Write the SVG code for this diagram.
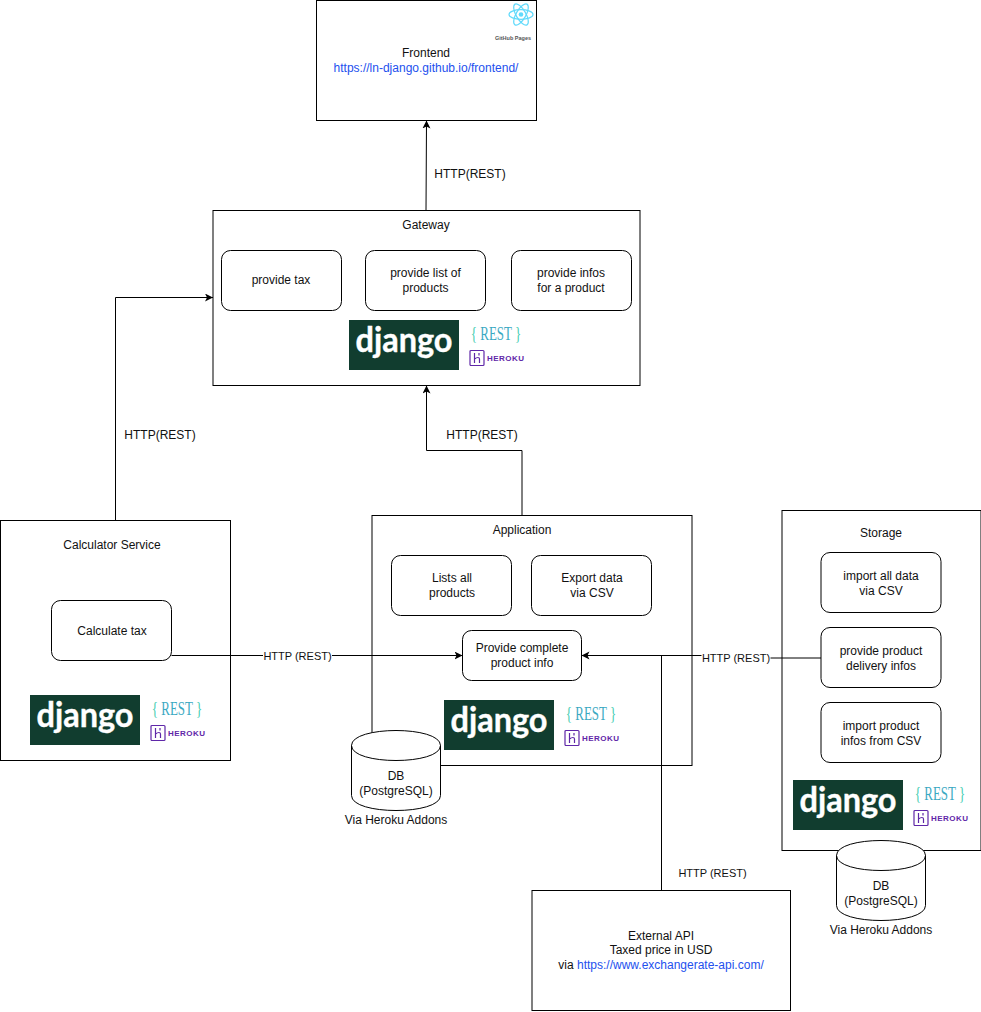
<svg xmlns="http://www.w3.org/2000/svg" width="981" height="1012" viewBox="0 0 981 1012">
<style>
text{font-family:"Liberation Sans",Arial,sans-serif;font-size:12px;fill:#111;text-anchor:middle}
.box{fill:#fff;stroke:#000;stroke-width:1}
.line{fill:none;stroke:#000;stroke-width:1}
.link{fill:#2350ee}
.dj{fill:#113d2f}
.djt{font-family:"Lato",sans-serif;font-weight:700;font-size:34px;fill:#fff;stroke:#fff;stroke-width:.4}
.rest{font-family:"Liberation Serif",serif;font-size:18px;fill:url(#restg)}
.her{font-family:"Liberation Sans",sans-serif;font-weight:700;font-size:8px;fill:#5f27a8;text-anchor:start}
.hi{fill:none;stroke:#5f27a8;stroke-width:1.2}
.lab{fill:#fff}
.s{font-size:11px}
</style>
<defs>
<linearGradient id="restg"><stop offset="0.1" stop-color="#3fcbb0"/><stop offset="0.16" stop-color="#3aa8c1"/><stop offset="0.84" stop-color="#3aa8c1"/><stop offset="0.9" stop-color="#3fcbb0"/></linearGradient>
<marker id="arr" markerUnits="userSpaceOnUse" markerWidth="10" markerHeight="10" refX="8" refY="4" orient="auto"><path d="M0,0 L8,4 L0,8 L2,4Z" fill="#000"/></marker>
<g id="hicon"><rect x="0" y="0" width="14" height="15" rx="1" class="hi"/><path d="M4.500,2.500V12.500M4.500,8.500C7,6.500 9.500,6.500 9.500,8.500V12.500M9,2.500V5" class="hi"/></g>
</defs>
<g id="frontend"><rect class="box" x="316.500" y="0.500" width="220" height="120"/>
<g fill="none" stroke="#61dafb" stroke-width="1.2"><ellipse cx="521" cy="14.500" rx="12" ry="4.800"/><ellipse cx="521" cy="14.500" rx="12" ry="4.800" transform="rotate(60 521 14.500)"/><ellipse cx="521" cy="14.500" rx="12" ry="4.800" transform="rotate(120 521 14.500)"/></g><circle cx="521" cy="14.500" r="2.300" fill="#61dafb"/>
<text x="513" y="40" textLength="36" lengthAdjust="spacingAndGlyphs" style="font-size:6px;font-weight:700;fill:#555">GitHub Pages</text>
<text x="426" y="57">Frontend</text><text class="link" x="426" y="72">https://ln-django.github.io/frontend/</text></g>
<g id="gateway"><rect class="box" x="213" y="210.500" width="427" height="175"/><text x="426" y="229">Gateway</text>
<rect class="box" x="221.500" y="250.500" width="120" height="60" rx="9"/><text x="281" y="284">provide tax</text>
<rect class="box" x="365.500" y="250.500" width="120" height="60" rx="9"/><text x="425.500" y="277">provide list of</text><text x="425.500" y="292">products</text>
<rect class="box" x="511.500" y="250.500" width="120" height="60" rx="9"/><text x="571" y="277">provide infos</text><text x="571" y="292">for a product</text>
<rect class="dj" x="349" y="320" width="110" height="50"/><text class="djt" x="404" y="352" textLength="97" lengthAdjust="spacingAndGlyphs">django</text>
<text class="rest" transform="translate(496 340) scale(.72 1)">{ REST }</text><use href="#hicon" x="470" y="350.500"/><text class="her" x="487" y="361" textLength="37">HEROKU</text></g>
<g id="calculator"><rect class="box" x="0.500" y="520.500" width="230" height="240"/><text x="112" y="549">Calculator Service</text>
<rect class="box" x="51.500" y="600.500" width="120" height="60" rx="9"/><text x="112" y="635">Calculate tax</text>
<rect class="dj" x="30" y="695" width="110" height="50"/><text class="djt" x="85" y="727" textLength="97" lengthAdjust="spacingAndGlyphs">django</text>
<text class="rest" transform="translate(177 715) scale(.72 1)">{ REST }</text><use href="#hicon" x="151" y="725.500"/><text class="her" x="168" y="736" textLength="37">HEROKU</text></g>
<g id="application"><rect class="box" x="372" y="515.500" width="320" height="250"/><text x="522" y="534">Application</text>
<rect class="box" x="391.500" y="555.500" width="120" height="60" rx="9"/><text x="452" y="582">Lists all</text><text x="452" y="597">products</text>
<rect class="box" x="531.500" y="555.500" width="120" height="60" rx="9"/><text x="592" y="582">Export data</text><text x="592" y="597">via CSV</text>
<rect class="box" x="462.500" y="630.500" width="119" height="50" rx="9"/><text x="522" y="652">Provide complete</text><text x="522" y="667">product info</text>
<rect class="dj" x="444" y="700" width="110" height="50"/><text class="djt" x="499" y="732" textLength="97" lengthAdjust="spacingAndGlyphs">django</text>
<text class="rest" transform="translate(591 720) scale(.72 1)">{ REST }</text><use href="#hicon" x="565" y="730.500"/><text class="her" x="582" y="741" textLength="37">HEROKU</text></g>
<g id="db1"><path class="box" d="M351.500,745.500C351.500,725.500 440.500,725.500 440.500,745.500V795.500C440.500,815.500 351.500,815.500 351.500,795.500Z"/><path class="line" d="M351.500,745.500C351.500,765.500 440.500,765.500 440.500,745.500"/><text x="396" y="780">DB</text><text x="396" y="795">(PostgreSQL)</text><text x="396" y="824">Via Heroku Addons</text></g>
<g id="storage"><rect class="box" x="782" y="510.500" width="199" height="340"/><text x="881" y="537">Storage</text>
<rect class="box" x="821" y="552.500" width="120" height="60" rx="9"/><text x="881" y="580">import all data</text><text x="881" y="595">via CSV</text>
<rect class="box" x="821" y="627.500" width="120" height="60" rx="9"/><text x="881" y="655">provide product</text><text x="881" y="670">delivery infos</text>
<rect class="box" x="821" y="702.500" width="120" height="60" rx="9"/><text x="881" y="730">import product</text><text x="881" y="745">infos from CSV</text>
<rect class="dj" x="793" y="780" width="110" height="50"/><text class="djt" x="848" y="812" textLength="97" lengthAdjust="spacingAndGlyphs">django</text>
<text class="rest" transform="translate(940 800) scale(.72 1)">{ REST }</text><use href="#hicon" x="914" y="810.500"/><text class="her" x="931" y="821" textLength="37">HEROKU</text></g>
<g id="db2"><path class="box" d="M836.500,855.500C836.500,835.500 925.500,835.500 925.500,855.500V905.500C925.500,925.500 836.500,925.500 836.500,905.500Z"/><path class="line" d="M836.500,855.500C836.500,875.500 925.500,875.500 925.500,855.500"/><text x="881" y="890">DB</text><text x="881" y="905">(PostgreSQL)</text><text x="881" y="934">Via Heroku Addons</text></g>
<g id="external"><rect class="box" x="532" y="890.500" width="258.500" height="120"/><text x="661" y="940">External API</text><text x="661" y="954">Taxed price in USD</text><text x="661" y="969"><tspan>via </tspan><tspan class="link">https://www.exchangerate-api.com/</tspan></text></g>
<g id="connectors">
<path class="line" marker-end="url(#arr)" d="M426,210.500L426.500,120.500"/>
<path class="line" marker-end="url(#arr)" d="M115.500,520.500V297.500H213"/>
<path class="line" marker-end="url(#arr)" d="M522,515.500V450.500H426.500V385.500"/>
<path class="line" marker-end="url(#arr)" d="M171.500,655.500H462.500"/>
<path class="line" marker-end="url(#arr)" d="M821,658H736V655.500H581.500"/>
<path class="line" d="M661.500,890.500V655.500"/>
<text x="470" y="178">HTTP(REST)</text>
<text x="160" y="439">HTTP(REST)</text>
<text x="482" y="439">HTTP(REST)</text>
<rect class="lab" x="263" y="650" width="69" height="13"/><text class="s" x="297.500" y="660">HTTP (REST)</text>
<rect class="lab" x="701.500" y="652" width="69" height="13"/><text class="s" x="736" y="662">HTTP (REST)</text>
<text class="s" x="712.500" y="877">HTTP (REST)</text>
</g>
</svg>
